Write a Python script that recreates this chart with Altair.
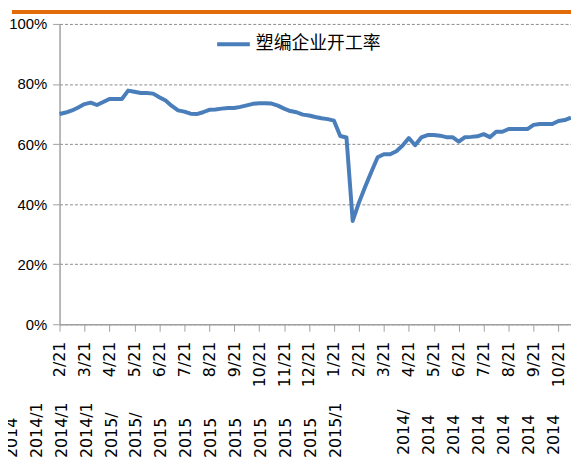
import altair as alt
import pandas as pd

# weekly operating rate of plastic-woven enterprises (%)
rate = [70.0, 70.5, 71.2, 72.2, 73.3, 73.8, 73.0, 74.0, 75.0, 75.0,
        75.0, 77.8, 77.4, 77.0, 77.0, 76.8, 75.6, 74.5, 72.7, 71.2,
        70.8, 70.1, 70.0, 70.6, 71.4, 71.5, 71.8, 72.0, 72.0, 72.4,
        72.9, 73.4, 73.6, 73.6, 73.5, 72.8, 71.8, 71.0, 70.6, 69.8,
        69.5, 69.0, 68.6, 68.3, 67.8, 62.7, 62.2, 34.4, 40.5, 45.8,
        50.8, 55.6, 56.6, 56.6, 57.6, 59.5, 62.0, 59.6, 62.2, 63.0,
        63.0, 62.8, 62.3, 62.3, 60.8, 62.3, 62.4, 62.6, 63.3, 62.3,
        64.1, 64.1, 65.0, 65.0, 65.0, 65.0, 66.4, 66.7, 66.7, 66.7,
        67.7, 68.0, 68.8]
series_name = "塑编企业开工率"

# x-axis tick positions (week index) and the visible label fragments
tick_idx = list(range(0, 81, 4))
upper_labels = ["2/21", "3/21", "4/21", "5/21", "6/21", "7/21", "8/21",
                "9/21", "10/21", "11/21", "12/21", "1/21", "2/21", "3/21",
                "4/21", "5/21", "6/21", "7/21", "8/21", "9/21", "10/21"]
lower_left_idx = list(range(-4, 49, 4))
lower_left_labels = ["2014", "2014/1", "2014/1", "2014/1", "2015/", "2015/",
                     "2015", "2015", "2015", "2015", "2015", "2015", "2015",
                     "2015/1"]
lower_right_idx = list(range(56, 81, 4))
lower_right_labels = ["2014/", "2014", "2014", "2014", "2014", "2014", "2014"]

y_ticks = [0, 20, 40, 60, 80, 100]

df = pd.DataFrame({"idx": list(range(len(rate))), "rate": rate,
                   "series": [series_name] * len(rate)})
df_ll = pd.DataFrame({"idx": lower_left_idx, "txt": lower_left_labels})
df_lr = pd.DataFrame({"idx": lower_right_idx, "txt": lower_right_labels})

W, H = 516, 303
LABEL_FONT = "DejaVu Sans"
label_arr = "[" + ",".join("'" + s + "'" for s in upper_labels) + "]"

xscale = alt.Scale(domain=[0, len(rate) - 1], nice=False, zero=False)
x_axis = alt.Axis(values=tick_idx, title=None, grid=False,
                  labelExpr=label_arr + "[round(datum.value/4)]",
                  labelAngle=270, labelAlign="right",
                  labelBaseline="middle", labelOverlap=False,
                  labelSeparation=0, labelBound=False,
                  labelFlush=False, labelPadding=10, tickSize=7,
                  tickColor="#a0a0a0", domainColor="#a0a0a0",
                  domainWidth=1.5, labelFont=LABEL_FONT,
                  labelFontSize=16, labelColor="#000000")
y_axis = alt.Axis(values=y_ticks, title=None, grid=True,
                  gridDash=[3, 2], gridColor="#8c8c8c", gridWidth=1,
                  labelExpr="datum.value + '%'", tickSize=7,
                  tickColor="#a0a0a0", domainColor="#a0a0a0",
                  domainWidth=1.5, labelPadding=6,
                  labelFont="Liberation Sans",
                  labelFontSize=15, labelColor="#000000")

line = alt.Chart(df).mark_line(strokeWidth=4, strokeJoin="round").encode(
    x=alt.X("idx:Q", scale=xscale, axis=x_axis),
    y=alt.Y("rate:Q", scale=alt.Scale(domain=[0, 100], nice=False),
            axis=y_axis),
    color=alt.Color("series:N", scale=alt.Scale(range=["#4a7ebb"]),
                    legend=alt.Legend(title=None, orient="none", legendX=157,
                                      legendY=2, symbolType="stroke",
                                      symbolStrokeWidth=4, symbolSize=1089,
                                      labelFontSize=18,
                                      labelFont="Noto Sans CJK SC",
                                      labelColor="#000000", labelOffset=4,
                                      padding=0)),
)

lower_left = alt.Chart(df_ll).mark_text(
    angle=270, align="left", baseline="middle", dy=-23,
    font=LABEL_FONT, fontSize=16, color="#000000"
).encode(x=alt.X("idx:Q", scale=xscale, axis=x_axis), y=alt.value(438),
         text="txt:N")

lower_right = alt.Chart(df_lr).mark_text(
    angle=270, align="left", baseline="middle", dy=-5,
    font=LABEL_FONT, fontSize=16, color="#000000"
).encode(x=alt.X("idx:Q", scale=xscale, axis=x_axis), y=alt.value(435),
         text="txt:N")

top_bar = alt.Chart(df.head(1)).mark_rule(
    color="#e36c0a", strokeWidth=4
).encode(x=alt.value(-48), x2=alt.value(519), y=alt.value(-12))

chart = alt.layer(line, lower_left, lower_right, top_bar).properties(
    width=W, height=H,
    autosize=alt.AutoSizeParams(type="none"),
    padding={"left": 52, "top": 14, "right": 0, "bottom": 150},
    background="white",
).configure_view(stroke=None)

chart.save("out.html", embed_options={"renderer": "svg", "actions": False})
